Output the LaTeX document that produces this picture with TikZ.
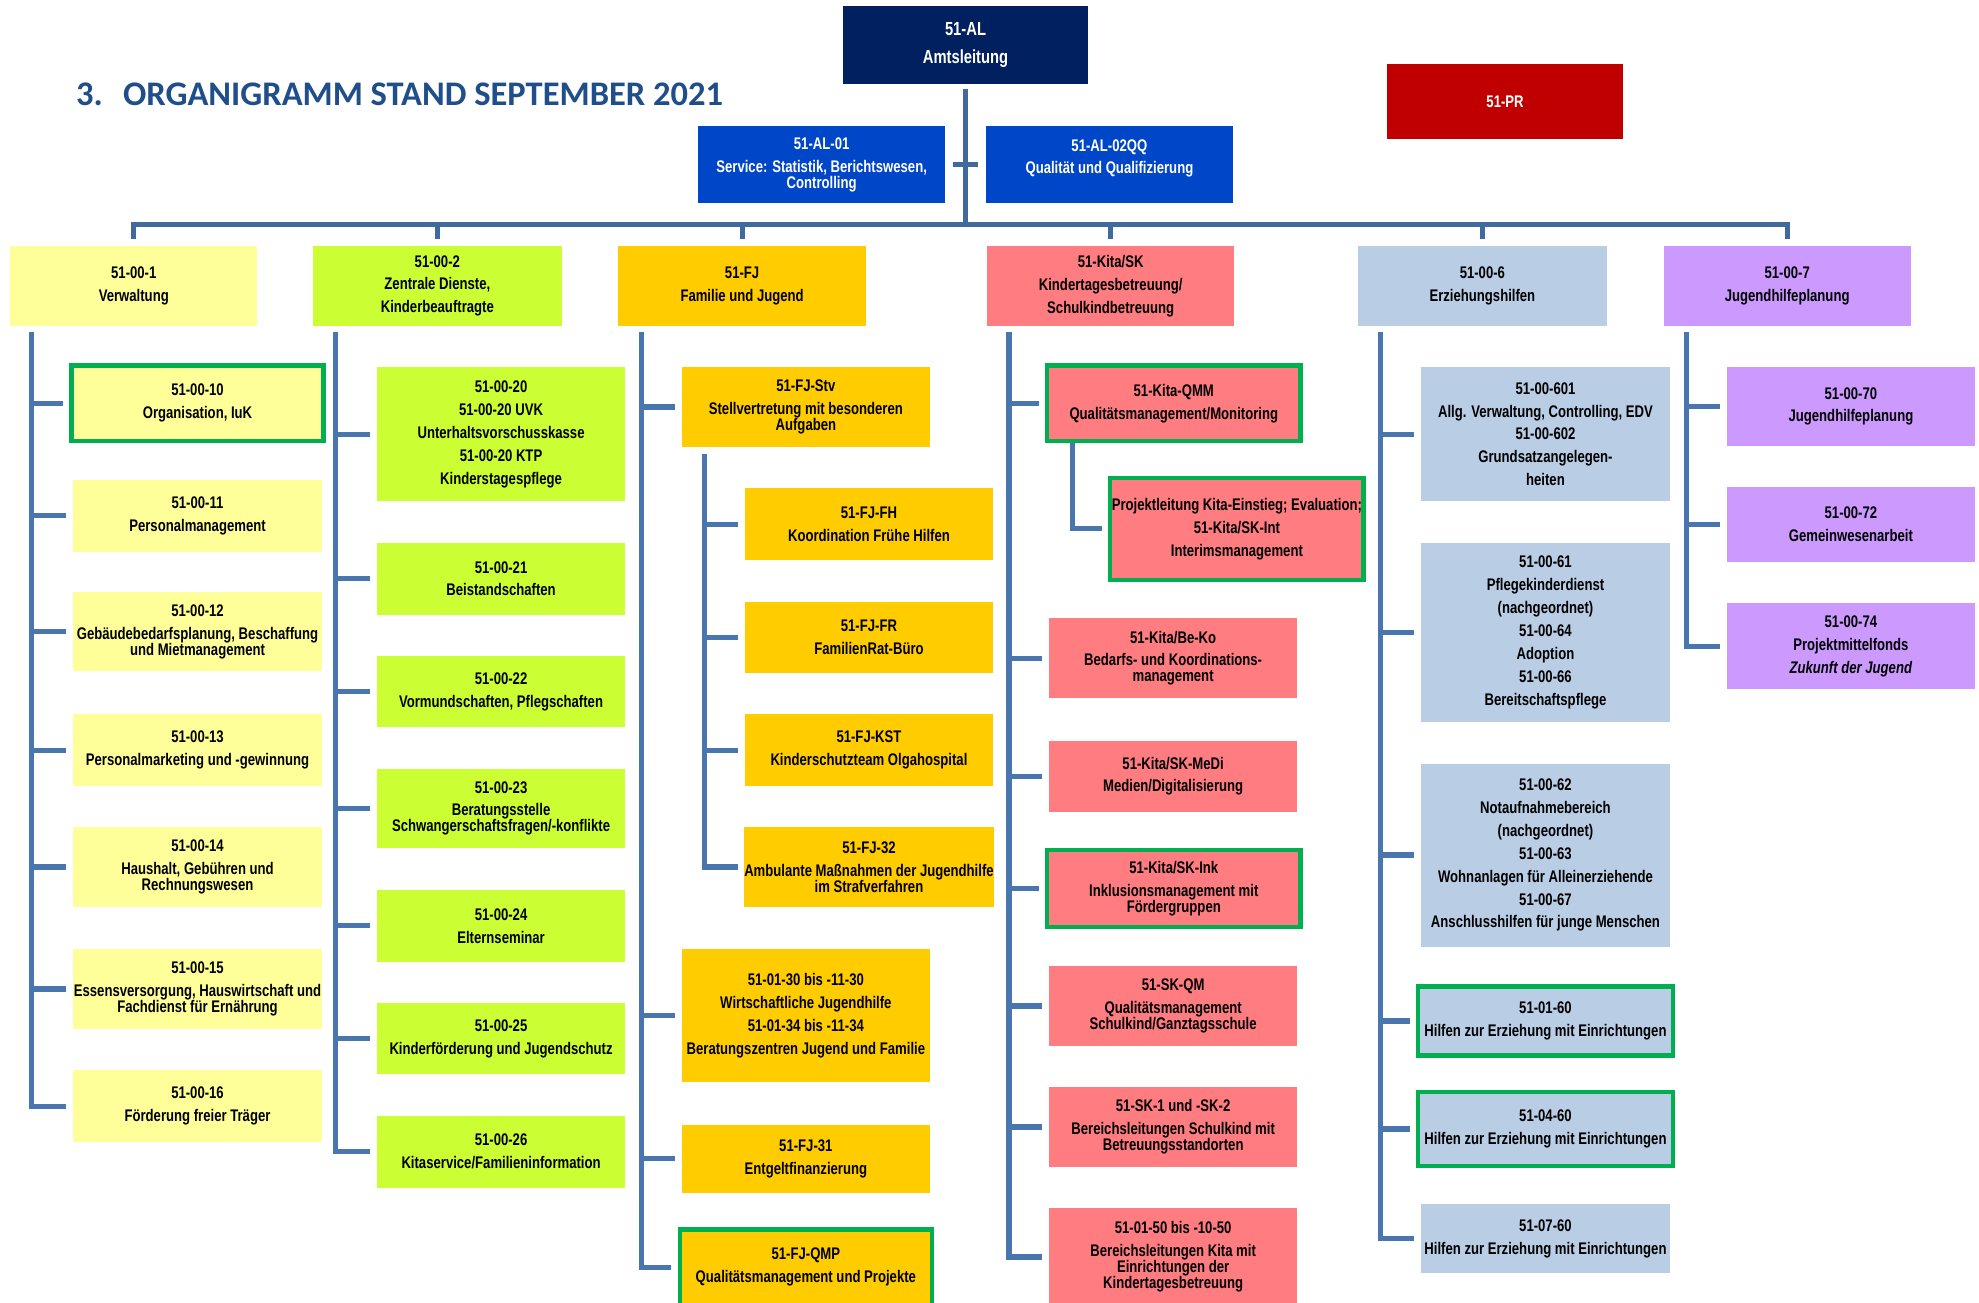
\documentclass[tikz,border=0pt]{standalone}
\usepackage{fontspec}
\usepackage{tikz}
\newfontfamily\unitfont{Liberation Sans}[FakeStretch=0.78]
\newfontfamily\titlefont{Carlito}
\definecolor{alnavy}{HTML}{002060}
\definecolor{staffblue}{HTML}{0046C8}
\definecolor{prred}{HTML}{C00000}
\definecolor{cyellow}{HTML}{FFFF99}
\definecolor{clime}{HTML}{CCFF33}
\definecolor{cgold}{HTML}{FFCC00}
\definecolor{csalmon}{HTML}{FF7C80}
\definecolor{cblue}{HTML}{B9CDE5}
\definecolor{cviolet}{HTML}{CC99FF}
\definecolor{flaggreen}{HTML}{00B050}
\definecolor{linkblue}{HTML}{4A76B0}
\definecolor{barblue}{HTML}{40699C}
\definecolor{titleblue}{HTML}{1F4E8A}
\tikzset{>=latex}
\newcommand{\boxtext}{\unitfont\bfseries\fontsize{8}{7.6}\selectfont}
\newcommand{\headtext}{\unitfont\bfseries\fontsize{9}{8.5}\selectfont}
\newcommand{\titletext}{\titlefont\bfseries\fontsize{16.4}{18}\selectfont}
\newcommand{\pbr}{\\[3.3pt]}

\begin{document}
\begin{tikzpicture}[x=0.6pt,y=-0.6pt,
  unit/.style={rectangle,align=center,inner sep=0pt,font=\boxtext,minimum width=118.2pt},
  boxw/.style={minimum width=#1*0.6pt},
  boxh/.style={minimum height=#1*0.6pt},
  flag/.style={draw=flaggreen,line width=2pt},
  orgline/.style={draw=linkblue,line width=2.5pt},
  topline/.style={draw=barblue,line width=2.5pt},
  stub/.style={shorten >=3pt}]
\useasboundingbox (0,0) rectangle (1568,1032);
\clip (0,0) rectangle (1568,1032);
\node[anchor=base west,inner sep=0pt,font=\titletext,text=titleblue] (title) at (60,83.2) {3.\hspace{9.6pt}ORGANIGRAMM STAND SEPTEMBER 2021};
\node[unit,fill=alnavy,text=white,boxw=194,boxh=62,font=\headtext] (al) at (765,35.5) {51-AL\\[4.7pt]Amtsleitung};
\node[unit,fill=prred,text=white,boxw=187,boxh=59] (pr) at (1192.5,80.5) {51-PR};
\node[unit,fill=staffblue,text=white,boxw=196,boxh=61] (al01) at (651,130.5) {51-AL-01\pbr Service: Statistik, Berichtswesen,\\Controlling};
\node[unit,fill=staffblue,text=white,boxw=196,boxh=61] (al02) at (879,130.5) {51-AL-02QQ\pbr Qualität und Qualifizierung\\\vphantom{C}};

\node[unit,fill=cyellow,boxw=196,boxh=63] (v1) at (106,226.5) {51-00-1\pbr Verwaltung};
\node[unit,fill=clime,boxw=197,boxh=63] (v2) at (346.5,226.5) {51-00-2\pbr Zentrale Dienste,\pbr Kinderbeauftragte};
\node[unit,fill=cgold,boxw=196,boxh=63] (v3) at (588,226.5) {51-FJ\pbr Familie und Jugend};
\node[unit,fill=csalmon,boxw=196,boxh=63] (v4) at (880,226.5) {51-Kita/SK\pbr Kindertagesbetreuung/\pbr Schulkindbetreuung};
\node[unit,fill=cblue,boxw=197,boxh=63] (v5) at (1174.5,226.5) {51-00-6\pbr Erziehungshilfen};
\node[unit,fill=cviolet,boxw=196,boxh=63] (v6) at (1416,226.5) {51-00-7\pbr Jugendhilfeplanung};

\node[unit,fill=cyellow,flag,boxw=199.7,boxh=59.7] (u10) at (156.5,319.5) {51-00-10\pbr Organisation, IuK};
\node[unit,fill=cyellow,boxh=57] (u11) at (156.5,408.5) {51-00-11\pbr Personalmanagement};
\node[unit,fill=cyellow,boxh=63] (u12) at (156.5,500.5) {51-00-12\pbr Gebäudebedarfsplanung, Beschaffung\\und Mietmanagement};
\node[unit,fill=cyellow,boxh=57] (u13) at (156.5,594.5) {51-00-13\pbr Personalmarketing und -gewinnung};
\node[unit,fill=cyellow,boxh=64] (u14) at (156.5,687) {51-00-14\pbr Haushalt, Gebühren und\\Rechnungswesen};
\node[unit,fill=cyellow,boxh=63] (u15) at (156.5,783.5) {51-00-15\pbr Essensversorgung, Hauswirtschaft und\\Fachdienst für Ernährung};
\node[unit,fill=cyellow,boxh=57] (u16) at (156.5,876.5) {51-00-16\pbr Förderung freier Träger};

\node[unit,fill=clime,boxh=106] (u20) at (397,344) {51-00-20\pbr 51-00-20 UVK\pbr Unterhaltsvorschusskasse\pbr 51-00-20 KTP\pbr Kinderstagespflege};
\node[unit,fill=clime,boxh=57] (u21) at (397,458.5) {51-00-21\pbr Beistandschaften};
\node[unit,fill=clime,boxh=56] (u22) at (397,548) {51-00-22\pbr Vormundschaften, Pflegschaften};
\node[unit,fill=clime,boxh=63] (u23) at (397,640.5) {51-00-23\pbr Beratungsstelle\\Schwangerschaftsfragen/-konflikte};
\node[unit,fill=clime,boxh=57] (u24) at (397,733.5) {51-00-24\pbr Elternseminar};
\node[unit,fill=clime,boxh=56] (u25) at (397,823) {51-00-25\pbr Kinderförderung und Jugendschutz};
\node[unit,fill=clime,boxh=57] (u26) at (397,912.5) {51-00-26\pbr Kitaservice/Familieninformation};

\node[unit,fill=cgold,boxh=63] (stv) at (638.5,322.5) {51-FJ-Stv\pbr Stellvertretung mit besonderen\\Aufgaben};
\node[unit,fill=cgold,boxh=57] (fh) at (688.5,415.5) {51-FJ-FH\pbr Koordination Frühe Hilfen};
\node[unit,fill=cgold,boxh=56] (fr) at (688.5,505) {51-FJ-FR\pbr FamilienRat-Büro};
\node[unit,fill=cgold,boxh=57] (kst) at (688.5,594.5) {51-FJ-KST\pbr Kinderschutzteam Olgahospital};
\node[unit,fill=cgold,boxh=64] (fj32) at (688.5,687) {51-FJ-32\pbr Ambulante Maßnahmen der Jugendhilfe\\im Strafverfahren};
\node[unit,fill=cgold,boxh=105] (wjh) at (638.5,804.5) {51-01-30 bis -11-30\pbr Wirtschaftliche Jugendhilfe\pbr 51-01-34 bis -11-34\pbr Beratungszentren Jugend und Familie};
\node[unit,fill=cgold,boxh=54] (fj31) at (638.5,918) {51-FJ-31\pbr Entgeltfinanzierung};
\node[unit,fill=cgold,flag,boxw=199.7,boxh=59.7] (qmp) at (638.5,1004) {51-FJ-QMP\pbr Qualitätsmanagement und Projekte};

\node[unit,fill=csalmon,flag,boxw=200.7,boxh=59.7] (qmm) at (930,319.5) {51-Kita-QMM\pbr Qualitätsmanagement/Monitoring};
\node[unit,fill=csalmon,flag,boxw=200.7,boxh=80.7] (kint) at (980,419) {Projektleitung Kita-Einstieg; Evaluation;\pbr 51-Kita/SK-Int\pbr Interimsmanagement};
\node[unit,fill=csalmon,boxh=63] (beko) at (929.5,521.5) {51-Kita/Be-Ko\pbr Bedarfs- und Koordinations-\\management};
\node[unit,fill=csalmon,boxh=56] (medi) at (929.5,615) {51-Kita/SK-MeDi\pbr Medien/Digitalisierung};
\node[unit,fill=csalmon,flag,boxw=200.7,boxh=60.7] (ink) at (930,704) {51-Kita/SK-Ink\pbr Inklusionsmanagement mit\\Fördergruppen};
\node[unit,fill=csalmon,boxh=64] (skqm) at (929.5,797) {51-SK-QM\pbr Qualitätsmanagement\\Schulkind/Ganztagsschule};
\node[unit,fill=csalmon,boxh=64] (sk12) at (929.5,893) {51-SK-1 und -SK-2\pbr Bereichsleitungen Schulkind mit\\Betreuungsstandorten};
\node[unit,fill=csalmon,boxh=78] (kbl) at (929.5,996) {51-01-50 bis -10-50\pbr Bereichsleitungen Kita mit\\Einrichtungen der\\Kindertagesbetreuung};

\node[unit,fill=cblue,boxh=106] (e601) at (1224.5,344) {51-00-601\pbr Allg. Verwaltung, Controlling, EDV\pbr 51-00-602\pbr Grundsatzangelegen-\pbr heiten};
\node[unit,fill=cblue,boxh=142] (e61) at (1224.5,501) {51-00-61\pbr Pflegekinderdienst\pbr (nachgeordnet)\pbr 51-00-64\pbr Adoption\pbr 51-00-66\pbr Bereitschaftspflege};
\node[unit,fill=cblue,boxh=145] (e62) at (1224.5,677.5) {51-00-62\pbr Notaufnahmebereich\pbr (nachgeordnet)\pbr 51-00-63\pbr Wohnanlagen für Alleinerziehende\pbr 51-00-67\pbr Anschlusshilfen für junge Menschen};
\node[unit,fill=cblue,flag,boxw=201.7,boxh=54.7] (e160) at (1224.5,809) {51-01-60\pbr Hilfen zur Erziehung mit Einrichtungen};
\node[unit,fill=cblue,flag,boxw=201.7,boxh=58.7] (e460) at (1224.5,894.6) {51-04-60\pbr Hilfen zur Erziehung mit Einrichtungen};
\node[unit,fill=cblue,boxh=55] (e760) at (1224.5,981.5) {51-07-60\pbr Hilfen zur Erziehung mit Einrichtungen};

\node[unit,fill=cviolet,boxh=62] (j70) at (1466.5,322) {51-00-70\pbr Jugendhilfeplanung};
\node[unit,fill=cviolet,boxh=59] (j72) at (1466.5,415.5) {51-00-72\pbr Gemeinwesenarbeit};
\node[unit,fill=cviolet,boxh=68] (j74) at (1466.5,512) {51-00-74\pbr Projektmittelfonds\pbr\textit{Zukunft der Jugend}};

\coordinate (bar) at (765,178);
\coordinate (s1) at (25,263);
\coordinate (s2) at (266,263);
\coordinate (s3) at (508.5,263);
\coordinate (s4) at (799.5,263);
\coordinate (s5) at (1094,263);
\coordinate (s6) at (1336,263);
\coordinate (s3b) at (558,360);
\coordinate (s4b) at (850,351);

\draw[topline,shorten <=2.2pt] (al) -- (bar);
\draw[topline,shorten <=3.6pt,shorten >=3.6pt] (al01) -- (al02);
\draw[topline,stub] (bar) -| (v1.north);
\draw[topline,stub] (bar) -| (v2.north);
\draw[topline,stub] (bar) -| (v3.north);
\draw[topline,stub] (bar) -| (v4.north);
\draw[topline,stub] (bar) -| (v5.north);
\draw[topline,stub] (bar) -| (v6.north);

\draw[orgline,stub] (s1) |- (u10);
\draw[orgline,stub] (s1) |- (u11);
\draw[orgline,stub] (s1) |- (u12);
\draw[orgline,stub] (s1) |- (u13);
\draw[orgline,stub] (s1) |- (u14);
\draw[orgline,stub] (s1) |- (u15);
\draw[orgline,stub] (s1) |- (u16);

\draw[orgline,stub] (s2) |- (u20);
\draw[orgline,stub] (s2) |- (u21);
\draw[orgline,stub] (s2) |- (u22);
\draw[orgline,stub] (s2) |- (u23);
\draw[orgline,stub] (s2) |- (u24);
\draw[orgline,stub] (s2) |- (u25);
\draw[orgline,stub] (s2) |- (u26);

\draw[orgline,stub] (s3) |- (stv);
\draw[orgline,stub] (s3) |- (wjh);
\draw[orgline,stub] (s3) |- (fj31);
\draw[orgline,stub] (s3) |- (qmp);
\draw[orgline,stub] (s3b) |- (fh);
\draw[orgline,stub] (s3b) |- (fr);
\draw[orgline,stub] (s3b) |- (kst);
\draw[orgline,stub] (s3b) |- (fj32);

\draw[orgline,stub] (s4) |- (qmm);
\draw[orgline,stub] (s4b) |- (kint);
\draw[orgline,stub] (s4) |- (beko);
\draw[orgline,stub] (s4) |- (medi);
\draw[orgline,stub] (s4) |- (ink);
\draw[orgline,stub] (s4) |- (skqm);
\draw[orgline,stub] (s4) |- (sk12);
\draw[orgline,stub] (s4) |- (kbl);

\draw[orgline,stub] (s5) |- (e601);
\draw[orgline,stub] (s5) |- (e61);
\draw[orgline,stub] (s5) |- (e62);
\draw[orgline,stub] (s5) |- (e160);
\draw[orgline,stub] (s5) |- (e460);
\draw[orgline,stub] (s5) |- (e760);

\draw[orgline,stub] (s6) |- (j70);
\draw[orgline,stub] (s6) |- (j72);
\draw[orgline,stub] (s6) |- (j74);
\end{tikzpicture}
\end{document}
